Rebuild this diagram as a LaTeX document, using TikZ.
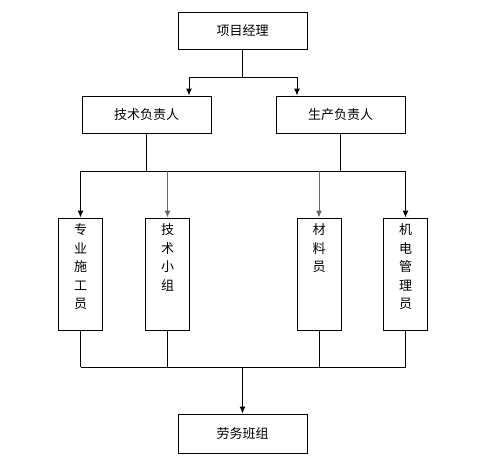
\documentclass[tikz,border=0pt]{standalone}
\usepackage{fontspec}
\newfontfamily\cjk{Noto Sans CJK SC}
\usetikzlibrary{arrows.meta}
\begin{document}
\begin{tikzpicture}[x=1pt,y=-1pt,
  box/.style={draw, line width=1pt, minimum width=129pt, minimum height=37pt, inner sep=0pt,
    font=\cjk\fontsize{13}{13}\selectfont},
  tall/.style={draw, line width=1pt, minimum width=44pt, minimum height=112pt, inner sep=0pt},
  vlab/.style={anchor=north, yshift=-6pt, inner sep=0pt, align=center,
    font=\cjk\fontsize{13}{18.5}\selectfont},
  conn/.style={line width=1pt},
  arr/.style={conn, -{Latex[length=7pt,width=6pt]}},
  garr/.style={arr, draw=black!60}]
\useasboundingbox (0,0) rectangle (498,461);
\node[box] (pm) at (242.5,30.5) {项目经理};
\node[box] (tech) at (146.5,114.5) {技术负责人};
\node[box] (prod) at (340.5,114.5) {生产负责人};
\node[tall, label={[vlab]north:专\\业\\施\\工\\员}] (s1) at (80.5,274) {};
\node[tall, label={[vlab]north:技\\术\\小\\组}] (s2) at (167.5,274) {};
\node[tall, label={[vlab]north:材\\料\\员}] (s3) at (319,274) {};
\node[tall, label={[vlab]north:机\\电\\管\\理\\员}] (s4) at (405.5,274) {};
\node[box, minimum height=39pt] (labor) at (242.5,433.5) {劳务班组};
% top fan-out
\coordinate (ja) at (189,77);
\coordinate (jb) at (297,77);
\draw[conn] (pm.south) -- (pm.south |- ja);
\draw[conn] (ja) -- (jb);
\draw[arr] (ja) -- (ja |- tech.north);
\draw[arr] (jb) -- (jb |- prod.north);
% middle bus
\coordinate (hb) at (0,171);
\draw[conn] (tech.south) -- (tech.south |- hb);
\draw[conn] (prod.south) -- (prod.south |- hb);
\draw[conn] (s1.north |- hb) -- (s4.north |- hb);
\draw[arr] (s1.north |- hb) -- (s1.north);
\draw[garr] (s2.north |- hb) -- (s2.north);
\draw[garr] (s3.north |- hb) -- (s3.north);
\draw[arr] (s4.north |- hb) -- (s4.north);
% bottom bus
\coordinate (lb) at (0,367);
\draw[conn] (s1.south) -- (s1.south |- lb);
\draw[conn] (s2.south) -- (s2.south |- lb);
\draw[conn] (s3.south) -- (s3.south |- lb);
\draw[conn] (s4.south) -- (s4.south |- lb);
\draw[conn] (s1.south |- lb) -- (s4.south |- lb);
\draw[arr] (labor.north |- lb) -- (labor.north);
\end{tikzpicture}
\end{document}
